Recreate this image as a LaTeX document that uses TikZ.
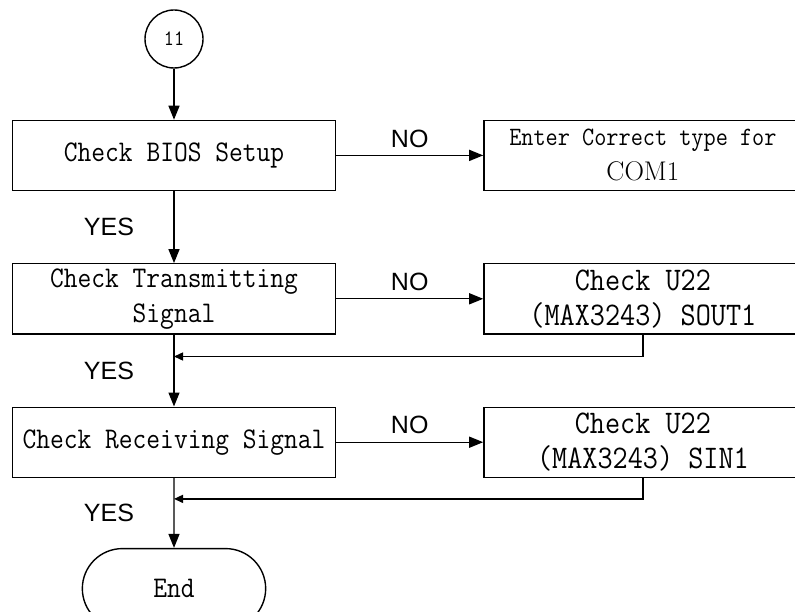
\documentclass[tikz,border=0pt]{standalone}
\usepackage{fontspec}
\newfontfamily\boxfont{Latin Modern Mono}[FakeStretch=0.89]
\newfontfamily\labfont{Liberation Sans}
\usetikzlibrary{positioning,arrows.meta,shapes.misc}

\tikzset{
  box/.style={draw,line width=1.4pt,minimum width=323pt,minimum height=70pt,inner sep=0pt,align=center,font=\boxfont\fontsize{30}{35}\selectfont},
  rbox/.style={box,minimum width=318pt,font=\boxfont\fontsize{33}{35}\selectfont},
  lab/.style={font=\labfont\fontsize{25}{30}\selectfont},
  arr/.style={line width=1.4pt,-{Triangle[length=14pt,width=11pt]}},
  back/.style={line width=1.4pt,-{Triangle[length=9pt,width=8pt]}},
}

\begin{document}
\begin{tikzpicture}
              \useasboundingbox (0,0) rectangle (795pt,-612pt);
              \node[circle,draw,line width=1.4pt,minimum size=58pt,inner sep=0pt,font=\boxfont\fontsize{22}{24}\selectfont] (start) at (174pt,-39pt) {11};
              \node[box,below=51pt of start] (bios) {Check BIOS Setup};
              \node[rbox,right=147pt of bios] (com) {{\fontsize{26.5}{35}\selectfont Enter Correct type for}\\{\rmfamily\fontsize{27}{35}\selectfont COM1}};
              \node[box,below=72pt of bios] (tx) {Check Transmitting\\Signal};
              \node[rbox,right=147pt of tx] (sout) {Check U22\\(MAX3243) SOUT1};
              \node[box,below=72pt of tx] (rx) {Check Receiving Signal};
              \node[rbox,right=147pt of rx] (sin) {Check U22\\(MAX3243) SIN1};
              \node[rounded rectangle,draw,line width=1.4pt,minimum width=190pt,minimum height=80pt,font=\boxfont\fontsize{30}{35}\selectfont,below=70pt of rx] (stop) {End};

              \draw[arr] (start) -- (bios);
              %no
              \draw[arr] (bios) -- node[lab,above=4pt] {NO} (com);
              \draw[arr] (tx) -- node[lab,above=4pt] {NO} (sout);
              \draw[arr] (rx) -- node[lab,above=4pt] {NO} (sin);

              %yes
              \draw[arr] (bios) -- node[lab,midway,left=36pt] {YES} (tx);
              \draw[arr] (tx) -- node[lab,midway,left=36pt] {YES} (rx);
              \draw[arr] (rx) -- node[lab,midway,left=36pt] {YES} (stop);

              %back to main line
              \draw[back] (sout.south) |- ([yshift=-22pt]tx.south);
              \draw[back] (sin.south) |- ([yshift=-21pt]rx.south);
            \end{tikzpicture}
\end{document}
